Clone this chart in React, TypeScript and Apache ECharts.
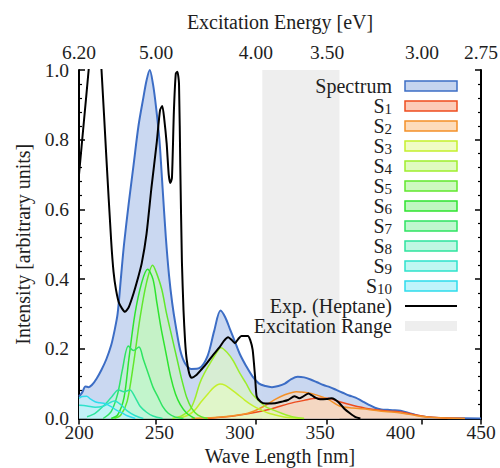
import React, { useEffect, useRef } from "react";
import * as echarts from "echarts";

// ---- data (wavelength nm, intensity) ----
const spectrum: number[][] = [
  [200,0.063],[202,0.075],[204,0.092],[206,0.09],[208,0.096],[211,0.115],[214,0.14],[217,0.17],[220,0.21],[222,0.25],
  [224,0.30],[226,0.40],[228,0.50],[231,0.62],[234,0.73],[237,0.84],[240,0.92],[242,0.97],[244,1.0],[246,0.96],
  [248,0.89],[250,0.80],[252,0.66],[254,0.52],[256,0.41],[258,0.33],[260,0.27],[263,0.195],[266,0.158],[270,0.142],
  [275,0.145],[280,0.18],[284,0.25],[288,0.31],[291,0.29],[294,0.255],[297,0.22],[300,0.185],[304,0.15],[308,0.12],
  [312,0.10],[316,0.093],[320,0.09],[324,0.093],[328,0.10],[332,0.113],[336,0.12],[340,0.118],[344,0.112],[348,0.104],
  [352,0.096],[356,0.09],[360,0.082],[364,0.074],[368,0.066],[372,0.06],[376,0.05],[380,0.04],[384,0.031],[388,0.026],
  [392,0.025],[396,0.024],[400,0.022],[404,0.017],[408,0.012],[412,0.007],[416,0.004],[420,0.002],[430,0.001],[450,0]
];
const experiment: number[][] = [
  [200,0.70],[203,0.85],[206,1.0],[208,1.12],[210,1.18],[212,1.12],[214,1.0],[217,0.75],[220,0.51],[221.5,0.42],
  [223,0.37],[225,0.33],[228.6,0.306],[231,0.32],[234,0.36],[236.5,0.40],[239,0.445],[242,0.53],[245,0.66],[248.3,0.79],
  [250.4,0.885],[251.8,0.897],[253,0.86],[254.5,0.79],[255.8,0.70],[256.8,0.676],[257.8,0.69],[259,0.88],[260.2,0.99],[261.2,0.995],
  [262.2,0.96],[263,0.72],[264,0.45],[265,0.31],[266,0.22],[267,0.168],[268.5,0.13],[270,0.117],[273,0.125],[276,0.14],
  [279.4,0.158],[283,0.18],[287.7,0.206],[290,0.222],[292.8,0.233],[295,0.225],[297,0.216],[299,0.228],[301,0.237],[305,0.237],
  [306.5,0.225],[308,0.197],[309.5,0.12],[310.5,0.063],[313,0.048],[316,0.043],[322,0.044],[326,0.048],[330,0.053],[334,0.064],
  [337,0.058],[339,0.062],[342.6,0.072],[345,0.066],[347,0.06],[350,0.055],[354,0.056],[357,0.058],[359,0.055],[362,0.044],
  [365,0.028],[368.5,0.015],[372,0.004],[375,0]
];
const s1: number[][] = [[280,0],[290,0.004],[300,0.01],[310,0.018],[320,0.028],[330,0.042],[340,0.052],[348,0.058],[355,0.058],[362,0.048],[370,0.038],[380,0.028],[390,0.022],[400,0.019],[410,0.01],[416,0.005],[425,0.002],[440,0]];
const s2: number[][] = [[270,0],[290,0.005],[305,0.015],[315,0.035],[322,0.055],[328,0.068],[335,0.077],[340,0.075],[348,0.067],[355,0.055],[362,0.036],[370,0.03],[380,0.026],[390,0.02],[400,0.016],[410,0.008],[420,0.003],[440,0]];
const s3: number[][] = [[262,0],[268,0.01],[272,0.024],[276,0.048],[280.4,0.072],[284,0.09],[287.7,0.099],[291,0.095],[295,0.082],[299,0.068],[303,0.053],[308,0.037],[313.6,0.024],[318,0.015],[324,0.008],[330,0.003],[340,0]];
const s4: number[][] = [[258,0],[264,0.008],[269,0.025],[272,0.055],[275,0.1],[278,0.13],[281.5,0.158],[285,0.185],[288.3,0.203],[292,0.19],[296,0.165],[300,0.13],[304,0.1],[307.4,0.072],[312,0.05],[316,0.034],[321,0.024],[326,0.015],[332,0.006],[340,0]];
const s5: number[][] = [[222,0],[226,0.01],[230,0.05],[234,0.16],[238,0.29],[242,0.39],[245.8,0.44],[248,0.42],[251.5,0.37],[254.5,0.30],[258,0.23],[261,0.17],[264,0.11],[267,0.06],[270,0.03],[274,0.01],[280,0]];
const s6: number[][] = [[220,0],[224,0.01],[228,0.06],[231,0.17],[234.8,0.30],[239,0.39],[242.7,0.428],[246,0.40],[248.5,0.33],[251,0.26],[254,0.19],[257,0.12],[260,0.07],[263,0.04],[267,0.015],[272,0]];
const s7: number[][] = [[215,0],[220,0.02],[224,0.07],[227,0.14],[230.7,0.208],[233.8,0.195],[237.3,0.205],[240,0.17],[243,0.13],[246,0.09],[249.3,0.06],[252,0.035],[255.5,0.015],[260,0.004],[265,0]];
const s8: number[][] = [[205,0.005],[210,0.015],[215,0.035],[220,0.06],[224.5,0.082],[228,0.077],[231.7,0.082],[235,0.06],[238,0.035],[242,0.018],[246,0.007],[252,0]];
const s9: number[][] = [[200,0.038],[205,0.036],[210,0.032],[215,0.035],[219,0.045],[222,0.05],[226,0.04],[230,0.022],[235,0.008],[240,0]];
const s10: number[][] = [[200,0.058],[202,0.063],[204.8,0.064],[207,0.056],[210,0.048],[213,0.045],[216,0.043],[220,0.034],[223,0.025],[226.5,0.017],[230,0.008],[235,0]];

const stateNames = ["S1","S2","S3","S4","S5","S6","S7","S8","S9","S10"];
const stateData = [s1, s2, s3, s4, s5, s6, s7, s8, s9, s10];
const stateLine = ["#ee4c1e","#f39028","#c4f02c","#9eee2c","#60e82c","#2ee42e","#2ee462","#2ee49e","#2ee2cc","#2edcec"];
const stateFill = ["#fccbb8","#fddcbb","#f0fcc5","#e0fbc0","#cdf9c0","#bff7c0","#bff7cf","#bff7e3","#bff7f2","#bff4fb"];

const excitationRange = [314, 362];
const energyTicks = [6.2, 5.0, 4.0, 3.5, 3.0, 2.75];
const energyLabels = ["6.20", "5.00", "4.00", "3.50", "3.00", "2.75"];

const FONT = "'Liberation Serif', 'Times New Roman', 'DejaVu Serif', serif";
const TXT = "#1e1e1e";

export default function App() {
  const ref = useRef<HTMLDivElement>(null);
  useEffect(() => {
    if (!ref.current) return;
    const chart = echarts.init(ref.current, null, { renderer: "svg" });
    const topVals = energyTicks.map((e) => Math.min(450, 1240 / e));
    const axisLine = { show: true, lineStyle: { color: "#000", width: 2 } };
    const series: any[] = [];
    series.push({
      name: "Excitation Range", type: "line", data: [], z: 1,
      markArea: { silent: true, itemStyle: { color: "#eeeeee" }, data: [[{ xAxis: excitationRange[0] }, { xAxis: excitationRange[1] }]] },
    });
    series.push({
      name: "Spectrum", type: "line", data: spectrum, symbol: "none", smooth: 0.3, z: 2,
      lineStyle: { color: "#3c6dc5", width: 2 }, itemStyle: { color: "#3c6dc5" },
      areaStyle: { color: "#c6d5f0", opacity: 0.92 },
    });
    stateNames.forEach((n, i) => {
      series.push({
        name: n, type: "line", data: stateData[i], symbol: "none", smooth: 0.3, z: 3,
        lineStyle: { color: stateLine[i], width: 1.5 }, itemStyle: { color: stateLine[i] },
        areaStyle: { color: stateFill[i], opacity: 0.6 },
      });
    });
    series.push({
      name: "Exp. (Heptane)", type: "line", data: experiment, symbol: "none", smooth: 0.2, z: 4,
      lineStyle: { color: "#000", width: 2 }, itemStyle: { color: "#000" },
    });

    const legendData: any[] = [
      { name: "Spectrum", icon: "rect", itemStyle: { color: "#c5d4ef", borderColor: "#3c6dc5", borderWidth: 1.5 } },
      ...stateNames.map((n, i) => ({ name: n, icon: "rect", itemStyle: { color: stateFill[i], borderColor: stateLine[i], borderWidth: 1.5 } })),
      { name: "Exp. (Heptane)", itemStyle: { color: "rgba(0,0,0,0)", borderWidth: 0, opacity: 0 }, lineStyle: { color: "#000", width: 2 } },
      { name: "Excitation Range", icon: "rect", itemStyle: { color: "#eeeeee", borderWidth: 0 } },
    ];

    chart.setOption({
      animation: false,
      backgroundColor: "#fff",
      textStyle: { fontFamily: FONT },
      grid: { left: 79, right: 19, top: 70, bottom: 49.5, outerBoundsMode: "none", containLabel: false },
      legend: {
        data: legendData, orient: "vertical", right: 42, top: 76, padding: 0,
        itemWidth: 52, itemHeight: 10, itemGap: 0, align: "right", selectedMode: false,
        formatter: (name: string) => {
          const m = /^S(\d+)$/.exec(name);
          return m ? "S{sub|" + m[1] + "}" : name;
        },
        textStyle: {
          fontFamily: FONT, fontSize: 20, color: TXT, lineHeight: 20, padding: [0, 8, 0, 0],
          rich: { sub: { fontFamily: FONT, fontSize: 15, lineHeight: 10, verticalAlign: "bottom", color: TXT } },
        },
      },
      xAxis: [
        {
          type: "value", position: "bottom", min: 200, max: 450, interval: 50,
          name: "Wave Length [nm]", nameLocation: "middle", nameGap: 28, nameMoveOverlap: false,
          nameTextStyle: { fontFamily: FONT, fontSize: 20, lineHeight: 18, color: TXT },
          axisLine, splitLine: { show: false },
          axisTick: { inside: true, length: 6, lineStyle: { color: "#000", width: 1.5 } },
          axisLabel: { fontFamily: FONT, fontSize: 19.5, lineHeight: 16, color: TXT, margin: 6 },
        },
        {
          type: "value", position: "top", min: 200, max: 450,
          name: "Excitation Energy [eV]", nameLocation: "middle", nameGap: 38, nameMoveOverlap: false,
          nameTextStyle: { fontFamily: FONT, fontSize: 20, color: TXT },
          axisLine, splitLine: { show: false },
          axisTick: { inside: true, length: 6, customValues: topVals, lineStyle: { color: "#000", width: 1.5 } },
          axisLabel: {
            fontFamily: FONT, fontSize: 19.5, color: TXT, margin: 8, customValues: topVals,
            showMinLabel: true, showMaxLabel: true,
            formatter: (v: number) => {
              let best = 0;
              topVals.forEach((t, i) => { if (Math.abs(t - v) < Math.abs(topVals[best] - v)) best = i; });
              return energyLabels[best];
            },
          },
        },
      ],
      yAxis: [
        {
          type: "value", position: "left", min: 0, max: 1, interval: 0.2,
          name: "Intensity [arbitrary units]", nameLocation: "middle", nameGap: 46, nameMoveOverlap: false,
          nameTextStyle: { fontFamily: FONT, fontSize: 20, color: TXT },
          axisLine, splitLine: { show: false },
          axisTick: { inside: true, length: 6, lineStyle: { color: "#000", width: 1.5 } },
          minorTick: { show: true, splitNumber: 5, length: 3, lineStyle: { color: "#000", width: 1.2 } },
          axisLabel: { fontFamily: FONT, fontSize: 19.5, color: TXT, margin: 10, formatter: (v: number) => v.toFixed(1) },
        },
        {
          type: "value", position: "right", min: 0, max: 1, interval: 0.2,
          axisLine, splitLine: { show: false },
          axisTick: { inside: true, length: 6, lineStyle: { color: "#000", width: 1.5 } },
          minorTick: { show: true, splitNumber: 5, length: 3, lineStyle: { color: "#000", width: 1.2 } },
          axisLabel: { show: false },
        },
      ],
      series,
    });
    return () => chart.dispose();
  }, []);
  return <div ref={ref} style={{ position: "fixed", left: 0, top: 0, width: 500, height: 468, background: "#fff" }} />;
}
